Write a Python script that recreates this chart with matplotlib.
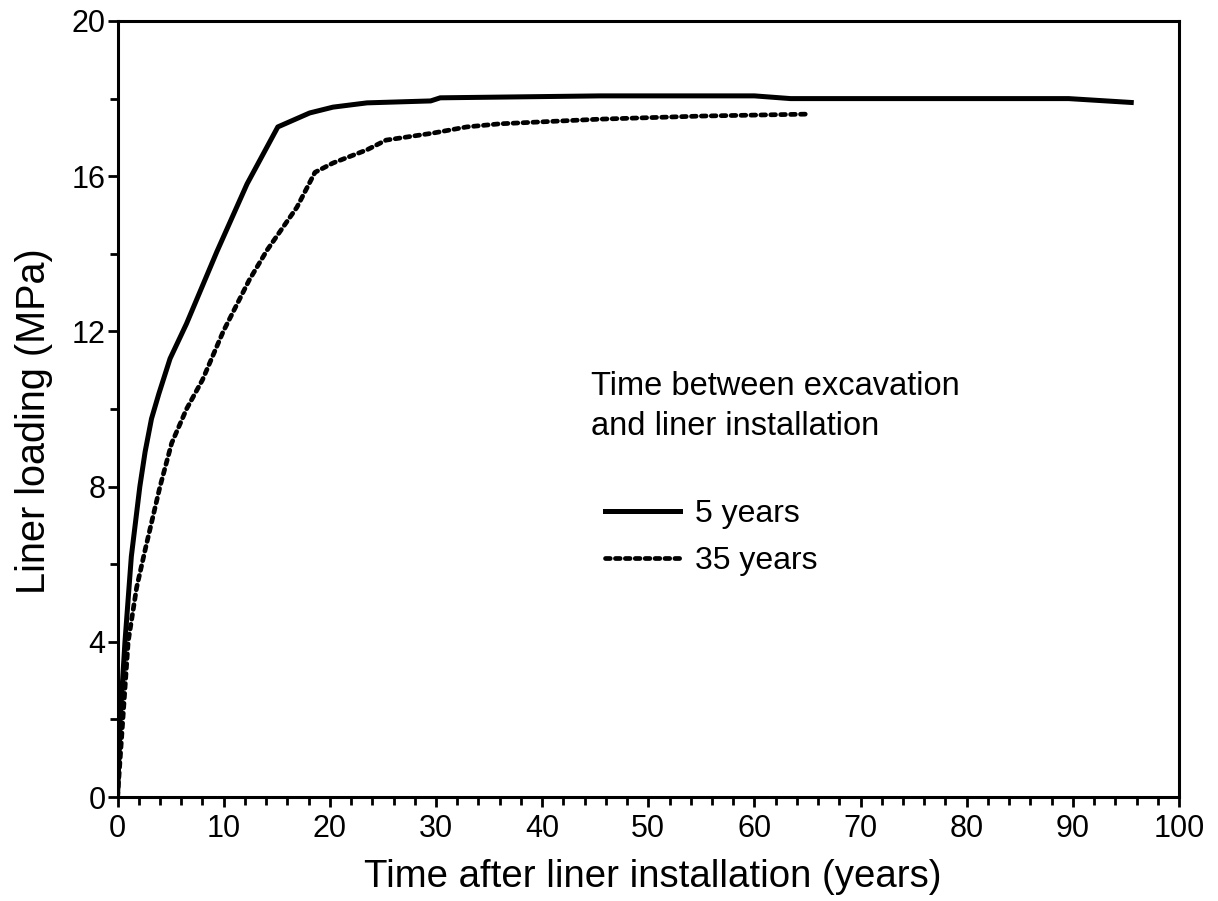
import matplotlib
matplotlib.use('Agg')
import matplotlib.pyplot as plt
from matplotlib.ticker import MultipleLocator

plt.rcParams['font.family'] = ['Liberation Sans', 'DejaVu Sans']

# liner loading, 5 years between excavation and installation
t5 = [0, 0.25, 0.7, 1.3, 2.1, 2.6, 3.2, 3.9, 4.95, 6.5, 9.35, 12.2, 15.1, 18.1, 20.3, 23.5,
      29.5, 30.4, 45.5, 60, 63.4, 89.6, 95.5]
p5 = [0, 2, 4, 6.2, 8, 8.9, 9.75, 10.4, 11.3, 12.2, 14.05, 15.8, 17.27, 17.63, 17.78, 17.89,
      17.94, 18.02, 18.07, 18.07, 18.0, 18.0, 17.9]

# liner loading, 35 years between excavation and installation
t35 = [0, 0.5, 1.0, 1.8, 2.6, 4.0, 5.1, 6.5, 8.0, 9.96, 12.4, 14.1, 16.9, 18.6, 20.3, 23.5,
       25.3, 29.7, 32.9, 36, 45.4, 55, 65]
p35 = [0, 2, 4, 5.4, 6.37, 8, 9.12, 10, 10.75, 12, 13.32, 14.1, 15.2, 16.1, 16.34, 16.68,
       16.93, 17.11, 17.27, 17.35, 17.47, 17.55, 17.6]

fig = plt.figure(figsize=(12.18, 9.01), dpi=100)
ax = fig.add_axes([0.0965, 0.1154, 0.8715, 0.8613])

l1, = ax.plot(t5, p5, color='black', lw=3.6, solid_joinstyle='round', label='5 years')
l2, = ax.plot(t35, p35, color='black', lw=3.4, linestyle=(0, (1, 1.1)),
              dash_capstyle='round', label='35 years')

ax.set_xlim(0, 100)
ax.set_ylim(0, 20)
ax.xaxis.set_major_locator(MultipleLocator(10))
ax.xaxis.set_minor_locator(MultipleLocator(2))
ax.yaxis.set_major_locator(MultipleLocator(4))
ax.yaxis.set_minor_locator(MultipleLocator(2))
ax.tick_params(which='both', direction='out', width=2, labelsize=22)
ax.tick_params(axis='y', pad=1)
ax.tick_params(axis='x', pad=5)
ax.tick_params(which='major', length=7.5)
ax.tick_params(which='minor', length=6)
for s in ax.spines.values():
    s.set_linewidth(2.2)

ax.set_xlabel('Time after liner installation (years)', fontsize=27.6)
ax.set_ylabel('Liner loading (MPa)', fontsize=28.5)
ax.xaxis.set_label_coords(0.504, -0.0797)
ax.yaxis.set_label_coords(-0.061, 0.4845)

ax.text(0.446, 0.466, 'Time between excavation\nand liner installation', transform=ax.transAxes,
        fontsize=23.5, va='baseline', ha='left', linespacing=1.4)
ax.legend(handles=[l1, l2], loc='upper left', bbox_to_anchor=(0.444, 0.404), frameon=False,
          borderpad=0, fontsize=23, handlelength=2.35, handletextpad=0.47, labelspacing=0.52)

fig.savefig('out.png', dpi=100)
